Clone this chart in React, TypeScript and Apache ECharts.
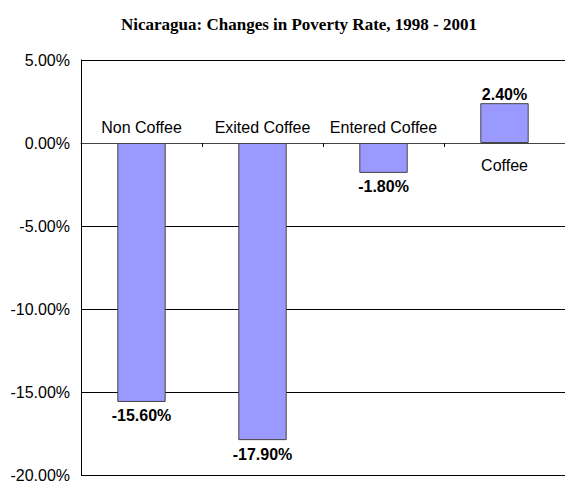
import React, { useEffect, useRef } from "react";
import * as echarts from "echarts";

const categories = ["Non Coffee", "Exited Coffee", "Entered Coffee", "Coffee"];
const changes = [-0.156, -0.179, -0.018, 0.024];
const yMin = -0.2;
const yMax = 0.05;
const yStep = 0.05;
const titleText = "Nicaragua: Changes in Poverty Rate, 1998 - 2001";

const pct = (v: number) => (v * 100).toFixed(2) + "%";

export default function App() {
  const ref = useRef<HTMLDivElement>(null);
  useEffect(() => {
    if (!ref.current) return;
    const chart = echarts.init(ref.current, undefined, { renderer: "svg" });
    const sans = "'Liberation Sans', Arial, sans-serif";
    chart.setOption({
      animation: false,
      backgroundColor: "#ffffff",
      title: {
        text: titleText,
        left: 116,
        top: 11,
        textStyle: {
          fontFamily: "'Liberation Serif', 'Times New Roman', serif",
          fontWeight: "bold",
          fontSize: 17,
          color: "#000",
        },
      },
      grid: { left: 81, right: -6, top: 60, bottom: 8, containLabel: false },
      xAxis: {
        type: "category",
        data: categories,
        axisLine: { onZero: true, lineStyle: { color: "#444", width: 1 } },
        axisTick: { show: true, inside: false, length: 4, lineStyle: { color: "#000" } },
        axisLabel: { show: false },
        splitLine: { show: false },
      },
      yAxis: {
        type: "value",
        min: yMin,
        max: yMax,
        interval: yStep,
        axisLine: { show: true, lineStyle: { color: "#000", width: 1 } },
        axisTick: { show: false },
        axisLabel: {
          formatter: (v: number) => pct(v),
          fontFamily: sans,
          fontSize: 16,
          color: "#000",
          margin: 11,
        },
        splitLine: { show: true, lineStyle: { color: "#000", width: 1 } },
      },
      series: [
        {
          type: "bar",
          data: changes.map((v) => ({
            value: v,
            label: {
              show: true,
              position: v < 0 ? "bottom" : "top",
              distance: v < 0 ? 6 : 1,
            },
          })),
          barWidth: "40%",
          itemStyle: { color: "#9999ff", borderColor: "#444", borderWidth: 1 },
          label: {
            show: true,
            formatter: (p: any) => pct(p.value),
            fontFamily: sans,
            fontSize: 16,
            fontWeight: "bold",
            color: "#000",
          },
          z: 3,
        },
        {
          type: "scatter",
          data: changes.map((v, i) => ({
            value: [i, 0],
            label: {
              show: true,
              position: v < 0 ? "top" : "bottom",
              distance: v < 0 ? 7 : 14,
            },
          })),
          symbol: "circle",
          symbolSize: 0.1,
          itemStyle: { color: "#000", opacity: 1 },
          label: {
            show: true,
            formatter: (p: any) => categories[p.dataIndex],
            fontFamily: sans,
            fontSize: 16,
            color: "#000",
            opacity: 1,
          },
          emphasis: { disabled: true },
          silent: true,
          z: 4,
        },
      ],
    });
    return () => chart.dispose();
  }, []);
  return (
    <div
      ref={ref}
      style={{ position: "fixed", left: 0, top: 0, width: 565, height: 483 }}
    />
  );
}
